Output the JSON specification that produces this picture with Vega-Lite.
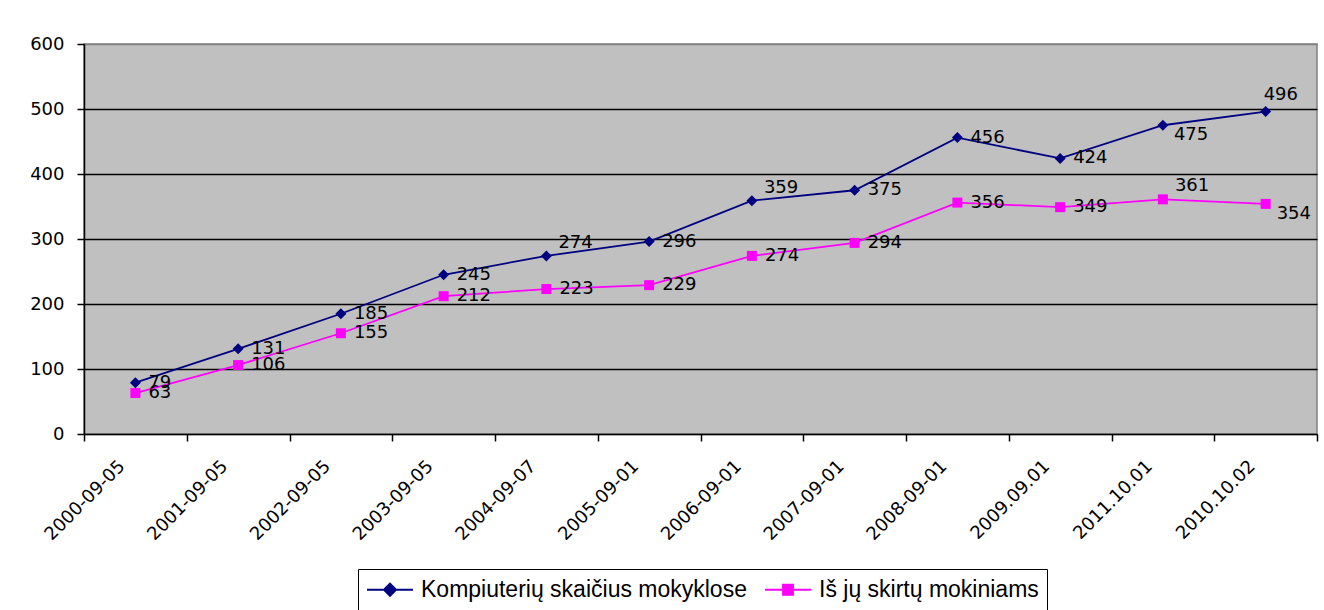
{
  "$schema": "https://vega.github.io/schema/vega-lite/v6.json",
  "width": 1233,
  "height": 390,
  "autosize": {"type": "none"},
  "padding": {"left": 84, "top": 44, "right": 7, "bottom": 176},
  "background": "white",
  "config": {
    "view": {"fill": "#C0C0C0", "stroke": "#808080", "strokeWidth": 1.5},
    "font": "DejaVu Sans"
  },
  "data": {
    "values": [
      {"date": "2000-09-05", "series": "Kompiuterių skaičius mokyklose", "value": 79},
      {"date": "2001-09-05", "series": "Kompiuterių skaičius mokyklose", "value": 131},
      {"date": "2002-09-05", "series": "Kompiuterių skaičius mokyklose", "value": 185},
      {"date": "2003-09-05", "series": "Kompiuterių skaičius mokyklose", "value": 245},
      {"date": "2004-09-07", "series": "Kompiuterių skaičius mokyklose", "value": 274},
      {"date": "2005-09-01", "series": "Kompiuterių skaičius mokyklose", "value": 296},
      {"date": "2006-09-01", "series": "Kompiuterių skaičius mokyklose", "value": 359},
      {"date": "2007-09-01", "series": "Kompiuterių skaičius mokyklose", "value": 375},
      {"date": "2008-09-01", "series": "Kompiuterių skaičius mokyklose", "value": 456},
      {"date": "2009.09.01", "series": "Kompiuterių skaičius mokyklose", "value": 424},
      {"date": "2011.10.01", "series": "Kompiuterių skaičius mokyklose", "value": 475},
      {"date": "2010.10.02", "series": "Kompiuterių skaičius mokyklose", "value": 496},
      {"date": "2000-09-05", "series": "Iš jų skirtų mokiniams", "value": 63},
      {"date": "2001-09-05", "series": "Iš jų skirtų mokiniams", "value": 106},
      {"date": "2002-09-05", "series": "Iš jų skirtų mokiniams", "value": 155},
      {"date": "2003-09-05", "series": "Iš jų skirtų mokiniams", "value": 212},
      {"date": "2004-09-07", "series": "Iš jų skirtų mokiniams", "value": 223},
      {"date": "2005-09-01", "series": "Iš jų skirtų mokiniams", "value": 229},
      {"date": "2006-09-01", "series": "Iš jų skirtų mokiniams", "value": 274},
      {"date": "2007-09-01", "series": "Iš jų skirtų mokiniams", "value": 294},
      {"date": "2008-09-01", "series": "Iš jų skirtų mokiniams", "value": 356},
      {"date": "2009.09.01", "series": "Iš jų skirtų mokiniams", "value": 349},
      {"date": "2011.10.01", "series": "Iš jų skirtų mokiniams", "value": 361},
      {"date": "2010.10.02", "series": "Iš jų skirtų mokiniams", "value": 354}
    ]
  },
  "encoding": {
    "x": {
      "field": "date",
      "type": "ordinal",
      "sort": null,
      "scale": {"paddingInner": 0, "paddingOuter": 0},
      "axis": {
        "title": null,
        "labelAngle": -45,
        "labelFont": "DejaVu Sans",
        "labelFontSize": 18,
        "labelColor": "black",
        "labelOffset": -20,
        "labelPadding": 16,
        "labelLimit": 0,
        "tickBand": "extent",
        "tickSize": 7,
        "tickColor": "black",
        "tickWidth": 1.5,
        "domainColor": "black",
        "domainWidth": 1.5,
        "grid": false
      }
    },
    "y": {
      "field": "value",
      "type": "quantitative",
      "scale": {"domain": [0, 600], "nice": false},
      "axis": {
        "title": null,
        "values": [0, 100, 200, 300, 400, 500, 600],
        "labelFont": "DejaVu Sans",
        "labelFontSize": 18,
        "labelColor": "black",
        "labelPadding": 13,
        "tickSize": 7,
        "tickColor": "black",
        "tickWidth": 1.5,
        "domainColor": "black",
        "domainWidth": 1.5,
        "grid": true,
        "gridColor": {"condition": {"test": "datum.value === 600 || datum.value === 0", "value": "#808080"}, "value": "black"},
        "gridWidth": 1.5
      }
    },
    "color": {
      "field": "series",
      "type": "nominal",
      "scale": {
        "domain": ["Kompiuterių skaičius mokyklose", "Iš jų skirtų mokiniams"],
        "range": ["#000080", "#FF00FF"]
      },
      "legend": {
        "title": null,
        "orient": "none",
        "legendX": 274,
        "legendY": 525,
        "direction": "horizontal",
        "strokeColor": "black",
        "padding": 8,
        "fillColor": "white",
        "labelFont": "Liberation Sans",
        "labelFontSize": 23,
        "labelColor": "black",
        "labelOffset": 30,
        "labelLimit": 0,
        "columnPadding": 14,
        "symbolSize": 529,
        "encode": {
          "symbols": {
            "update": {
              "shape": {"signal": "datum.value === 'Kompiuterių skaičius mokyklose' ? 'M-1,0H3M1,-0.52L1.52,0L1,0.52L0.48,0Z' : 'M-1,0H3M0.57,-0.43H1.43V0.43H0.57Z'"},
              "fill": {"scale": "color", "field": "value"},
              "stroke": {"scale": "color", "field": "value"},
              "strokeWidth": {"value": 2},
              "size": {"value": 529},
              "opacity": {"value": 1},
              "fillOpacity": {"value": 1},
              "strokeOpacity": {"value": 1}
            }
          }
        }
      }
    }
  },
  "layer": [
    {
      "mark": {"type": "line", "strokeWidth": 1.8}
    },
    {
      "transform": [{"filter": "datum.series === 'Kompiuterių skaičius mokyklose'"}],
      "mark": {"type": "point", "shape": "diamond", "filled": true, "size": 121, "opacity": 1}
    },
    {
      "transform": [{"filter": "datum.series === 'Iš jų skirtų mokiniams'"}],
      "mark": {"type": "point", "shape": "square", "filled": true, "size": 100, "opacity": 1}
    },
    {
      "transform": [{"filter": "indexof(['K|2004-09-07','K|2006-09-01','I|2011.10.01','K|2010.10.02','K|2011.10.01','I|2010.10.02'], slice(datum.series,0,1) + '|' + datum.date) < 0"}],
      "mark": {"type": "text", "align": "left", "baseline": "middle", "dx": 13, "fontSize": 18, "font": "DejaVu Sans", "color": "black"},
      "encoding": {"text": {"field": "value", "type": "quantitative"}, "color": {"value": "black"}}
    },
    {
      "transform": [{"filter": "indexof(['K|2004-09-07','K|2006-09-01','I|2011.10.01'], slice(datum.series,0,1) + '|' + datum.date) >= 0"}],
      "mark": {"type": "text", "align": "left", "baseline": "middle", "dx": 12, "dy": -13, "fontSize": 18, "font": "DejaVu Sans", "color": "black"},
      "encoding": {"text": {"field": "value", "type": "quantitative"}, "color": {"value": "black"}}
    },
    {
      "transform": [{"filter": "indexof(['K|2010.10.02'], slice(datum.series,0,1) + '|' + datum.date) >= 0"}],
      "mark": {"type": "text", "align": "left", "baseline": "middle", "dx": -2, "dy": -17, "fontSize": 18, "font": "DejaVu Sans", "color": "black"},
      "encoding": {"text": {"field": "value", "type": "quantitative"}, "color": {"value": "black"}}
    },
    {
      "transform": [{"filter": "indexof(['K|2011.10.01','I|2010.10.02'], slice(datum.series,0,1) + '|' + datum.date) >= 0"}],
      "mark": {"type": "text", "align": "left", "baseline": "middle", "dx": 11, "dy": 10, "fontSize": 18, "font": "DejaVu Sans", "color": "black"},
      "encoding": {"text": {"field": "value", "type": "quantitative"}, "color": {"value": "black"}}
    }
  ]
}
